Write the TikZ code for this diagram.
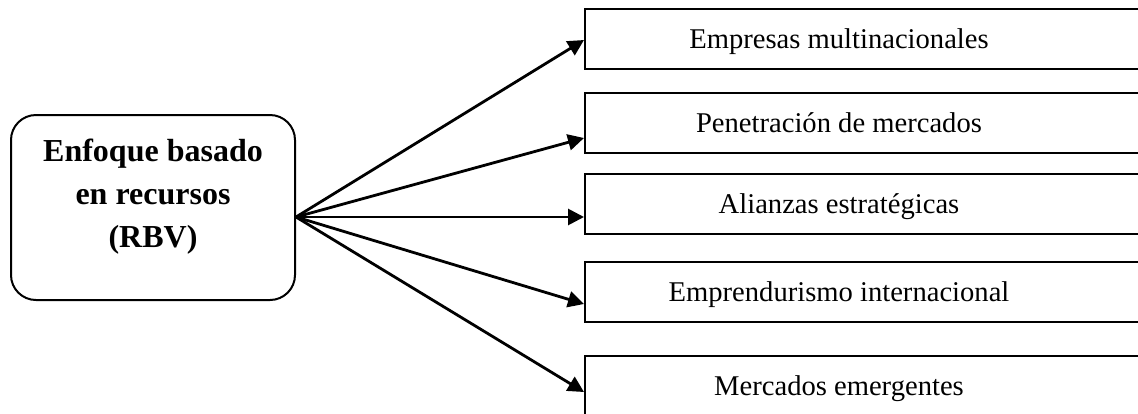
\documentclass[tikz,border=0pt]{standalone}
\usepackage{fontspec}
\setmainfont{Liberation Serif}
\usetikzlibrary{arrows.meta}
\usetikzlibrary{calc}
\tikzset{rbv box/.style={draw, line width=1pt, rounded corners=12.5pt,
  minimum width=142pt, minimum height=92.5pt, align=center,
  font=\fontsize{16}{21.5}\selectfont\bfseries},
 topic box/.style={draw, line width=1pt, anchor=west,
  minimum width=300pt, minimum height=30pt,
  text height=13pt, text depth=3.5pt,
  font=\fontsize{14.3}{17}\selectfont,
  execute at begin node={\hspace*{-46pt}}},
 link/.style={line width=1.4pt, -{Triangle[length=8pt,width=8pt]}},
 }

\begin{document}
\begin{tikzpicture}[x=0.5pt, y=-0.5pt]
        \useasboundingbox (0,0) rectangle (1138,413);
        \clip (0,0) rectangle (1138,413);
        \node [rbv box] (rbv) at (153,207.5) {Enfoque basado\\ en recursos\\ (RBV)\\[-7pt]};
        \coordinate (hub) at ($(rbv.east)+(0,9.5)$);
        % right column
        \node [topic box] (emp) at (584,39) {Empresas multinacionales};
        \node [topic box] (pen) at (584,123) {Penetración de mercados};
        \node [topic box] (ali) at (584,204) {Alianzas estratégicas};
        \node [topic box] (emd) at (584,292) {Emprendurismo internacional};
        \node [topic box] (mer) at (584,386) {Mercados emergentes};
        % arrows
        \draw [link] (hub) -- ($(emp.west)+(0,1)$);
        \draw [link] (hub) -- ($(pen.west)+(0,15)$);
        \draw [link] (hub) -- ($(ali.west)+(0,13)$);
        \draw [link] (hub) -- ($(emd.west)+(0,12)$);
        \draw [link] (hub) -- ($(mer.west)+(0,6)$);
    \end{tikzpicture}
\end{document}
